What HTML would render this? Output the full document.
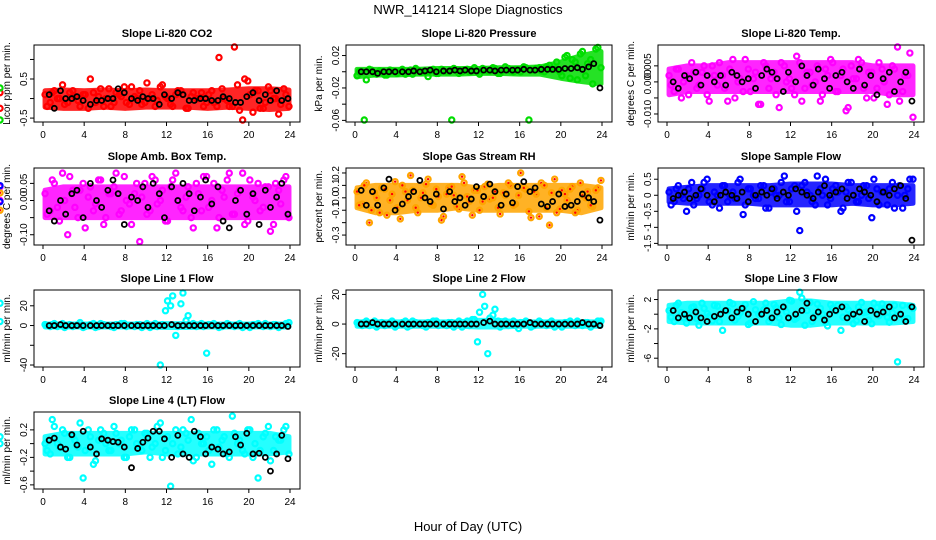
<!DOCTYPE html>
<html><head><meta charset="utf-8">
<style>
html,body{margin:0;padding:0;background:#fff;}
svg{display:block;font-family:"Liberation Sans",sans-serif;}
</style></head>
<body>
<svg id="chart" width="936" height="540" viewBox="0 0 936 540">
<text x="468" y="14" text-anchor="middle" font-size="13">NWR_141214  Slope Diagnostics</text>
<text x="468" y="531" text-anchor="middle" font-size="13">Hour of Day (UTC)</text>
</svg>
<script>
const hoursColor = [0.2,0.7,1.1,1.6,2.1,2.6,3.1,3.6,4.1,4.6,5.1,5.6,6.1,6.6,7.1,7.6,8.1,8.6,9.1,9.6,10.1,10.6,11.1,11.6,12.1,12.6,13.1,13.6,14.1,14.6,15.1,15.6,16.1,16.6,17.1,17.6,18.1,18.6,19.1,19.6,20.1,20.6,21.1,21.6,22.1,22.6,23.1,23.6,
  0.4,0.9,1.4,1.9,2.4,2.9,3.4,3.9,4.4,4.9,5.4,5.9,6.4,6.9,7.4,7.9,8.4,8.9,9.4,9.9,10.4,10.9,11.4,11.9,12.4,12.9,13.4,13.9,14.4,14.9,15.4,15.9,16.4,16.9,17.4,17.9,18.4,18.9,19.4,19.9,20.4,20.9,21.4,21.9,22.4,22.9,23.4,23.9];
const hoursBlack = [0.6,1.1,1.7,2.2,2.8,3.3,3.9,4.6,5.2,5.7,6.3,6.8,7.3,7.9,8.6,9.2,9.7,10.2,10.7,11.3,11.8,12.5,13.1,13.6,14.2,14.7,15.3,15.8,16.4,17.0,17.5,18.1,18.7,19.2,19.8,20.4,21.0,21.6,22.1,22.7,23.2,23.8];
const bandHours = [0.2,2,4,6,8,10,12,14,16,18,20,22,23.9];

const co2Color = [0.1,-0.1,0.2,0.0,-0.15,0.15,0.05,-0.2,0.1,0.5,-0.1,0.25,0.0,-0.2,0.15,0.05,-0.1,0.3,0.0,-0.15,0.4,0.1,-0.05,0.35,0.0,-0.2,0.2,0.1,-0.25,0.15,0.0,-0.2,0.1,-0.1,1.05,0.0,-0.2,1.4,-0.3,0.5,0.1,0.2,-0.25,-0.1,0.2,0.0,-0.15,0.1,
  -0.2,0.15,0.0,0.35,-0.1,0.2,-0.05,0.1,-0.25,0.15,0.05,-0.2,0.25,-0.1,0.1,0.3,-0.15,0.05,0.2,-0.1,0.0,-0.2,0.3,0.05,-0.15,0.1,0.2,-0.25,0.05,0.0,0.15,-0.1,0.2,-0.2,0.25,-0.05,-0.2,0.35,-0.55,0.45,-0.35,0.2,-0.25,0.3,0.0,-0.4,0.25,-0.2,0.15,-0.25];
const co2Black = [0.1,-0.25,0.2,0.0,0.0,0.05,-0.05,-0.15,-0.05,-0.05,0.0,0.0,0.25,0.15,0.0,-0.05,0.05,0.0,0.0,-0.15,0.1,0.0,0.15,0.1,-0.05,-0.05,0.0,0.0,-0.05,-0.05,0.05,0.0,-0.1,-0.1,0.05,0.15,-0.05,0.1,-0.05,0.2,-0.05,0.0];
const co2Low = [-0.22,-0.25,-0.25,-0.22,-0.25,-0.22,-0.22,-0.22,-0.25,-0.22,-0.25,-0.28,-0.25];
const co2High = [0.2,0.22,0.2,0.22,0.2,0.22,0.2,0.2,0.2,0.22,0.25,0.25,0.22];

const presColor = [-0.005,0.0,-0.01,0.002,-0.003,0.0,-0.004,0.001,-0.002,0.003,0.0,-0.003,0.002,0.0,-0.006,0.003,-0.002,0.001,0.0,0.004,-0.002,0.002,0.0,0.005,-0.003,0.003,0.001,0.004,-0.002,0.006,0.001,0.003,0.0,0.005,0.002,0.004,0.001,0.006,0.003,0.012,-0.005,0.02,0.015,-0.01,0.025,0.01,-0.015,0.03,
  0.0,-0.06,0.003,-0.002,0.001,-0.004,0.002,0.0,0.001,-0.003,0.002,0.004,-0.001,0.0,0.002,-0.002,0.003,0.0,-0.06,0.002,0.0,0.003,0.001,0.0,0.004,0.001,0.005,-0.002,0.002,0.004,0.0,0.003,0.006,-0.06,0.002,0.005,0.0,0.008,0.003,0.0,0.018,-0.008,0.012,0.022,-0.005,0.015,0.028,0.005,-0.02,-0.06];
const presBlack = [0.0,0.0,0.0,-0.002,0.0,0.0,0.0,0.0,0.0,0.001,0.0,0.001,0.002,0.0,0.001,0.001,0.002,0.001,0.002,0.001,0.001,0.002,0.002,0.001,0.002,0.002,0.002,0.002,0.003,0.002,0.002,0.003,0.003,0.003,0.003,0.004,0.004,0.005,0.003,0.006,0.01,-0.02];
const presLow = [-0.006,-0.004,-0.004,-0.003,-0.003,-0.003,-0.002,-0.002,-0.003,-0.003,-0.008,-0.012,-0.015];
const presHigh = [0.003,0.003,0.003,0.003,0.004,0.004,0.004,0.005,0.005,0.006,0.012,0.02,0.025];

const tempColor = [0.002,-0.003,0.004,0.0,-0.004,0.003,-0.001,0.005,-0.006,0.002,0.006,-0.002,0.004,-0.005,0.001,0.007,-0.003,0.003,-0.007,0.005,0.001,-0.004,0.006,0.0,-0.002,0.008,-0.006,0.003,-0.001,0.005,-0.004,0.002,0.006,-0.003,0.004,-0.008,0.001,0.007,-0.002,0.003,-0.005,0.006,0.0,-0.004,0.004,-0.006,0.002,0.009,
  -0.001,0.004,-0.005,0.002,0.006,-0.002,0.003,-0.004,0.005,-0.001,0.002,-0.006,0.007,0.0,-0.003,0.004,0.001,-0.007,0.006,-0.002,0.003,-0.008,0.005,0.001,-0.004,0.006,-0.002,0.003,0.0,-0.006,0.004,0.007,-0.003,0.002,-0.009,0.005,0.001,0.006,-0.005,0.003,-0.002,0.004,-0.007,0.005,0.011,-0.003,0.002,-0.011];
const tempBlack = [0.0,-0.002,0.002,0.001,0.003,-0.001,0.002,0.0,0.002,-0.001,0.003,0.002,0.0,0.001,-0.002,0.002,0.004,0.003,0.001,-0.003,0.003,0.0,0.005,0.002,-0.001,0.004,0.001,-0.002,0.002,0.003,0.0,-0.002,0.004,-0.001,0.002,-0.004,0.001,0.003,-0.003,0.0,0.003,-0.006];
const tempLow = [-0.004,-0.003,-0.003,-0.003,-0.003,-0.003,-0.003,-0.003,-0.003,-0.003,-0.003,-0.004,-0.004];
const tempHigh = [0.004,0.005,0.005,0.006,0.006,0.006,0.006,0.006,0.006,0.006,0.005,0.005,0.005];

const ambColor = [0.02,-0.03,0.05,-0.06,0.0,0.07,-0.02,0.03,-0.08,0.04,-0.01,0.06,-0.05,0.02,0.08,-0.03,0.0,-0.07,0.05,0.01,-0.04,0.07,-0.01,0.03,-0.06,0.06,0.0,-0.03,0.04,-0.08,0.02,0.07,-0.02,0.05,-0.05,0.01,0.08,-0.04,0.03,-0.07,0.06,0.0,-0.03,0.04,-0.09,0.05,-0.01,0.07,
  -0.04,0.06,-0.02,0.08,-0.1,0.03,-0.05,0.05,0.01,-0.03,0.06,-0.07,0.02,0.04,-0.04,0.07,-0.01,0.02,-0.12,0.05,-0.03,0.06,0.0,-0.06,0.04,0.08,-0.02,0.01,-0.05,0.05,-0.03,0.07,0.0,-0.08,0.03,0.06,-0.04,0.02,0.08,-0.06,0.01,0.05,-0.02,0.04,-0.07,0.03,0.06,-0.05,0.0,0.04];
const ambBlack = [-0.03,-0.06,0.0,-0.04,0.02,0.03,-0.05,0.05,0.0,-0.02,0.03,0.06,0.02,-0.07,0.01,0.0,0.04,-0.02,0.05,0.02,-0.05,0.04,0.0,0.05,0.02,-0.03,0.01,0.06,-0.01,0.04,-0.06,-0.08,0.0,0.03,-0.04,0.02,-0.07,0.03,-0.02,0.01,0.05,-0.04];
const ambLow = [-0.05,-0.05,-0.05,-0.05,-0.05,-0.05,-0.05,-0.05,-0.05,-0.05,-0.05,-0.05,-0.05];
const ambHigh = [0.03,0.04,0.04,0.04,0.04,0.04,0.04,0.04,0.04,0.04,0.04,0.04,0.04];

const rhColor = [0.05,-0.05,0.12,-0.1,0.0,0.08,-0.14,0.03,-0.08,0.1,-0.02,0.06,-0.12,0.04,0.15,-0.06,0.01,-0.15,0.08,0.02,-0.09,0.12,-0.03,0.06,-0.1,0.09,-0.01,0.05,-0.13,0.02,0.1,-0.05,0.2,0.07,-0.16,0.03,0.12,-0.08,0.04,-0.12,0.06,-0.02,0.09,-0.1,0.02,0.05,-0.07,0.08,
  -0.06,0.1,-0.2,0.04,-0.12,0.07,-0.02,0.13,-0.17,0.05,0.18,-0.08,0.0,0.11,-0.05,0.07,-0.18,0.03,0.09,-0.07,0.17,0.01,-0.14,0.06,-0.03,0.11,0.0,-0.08,0.04,0.12,-0.06,0.02,0.08,-0.11,0.05,-0.15,0.1,-0.22,0.15,-0.09,0.03,0.07,-0.12,0.12,0.0,-0.06,0.06,0.14,-0.1,0.04];
const rhBlack = [0.06,-0.06,0.05,-0.06,0.08,0.15,-0.1,-0.05,0.01,0.05,0.14,0.0,-0.03,0.03,-0.09,0.05,-0.03,0.0,-0.06,-0.01,0.09,0.01,0.11,0.05,-0.06,0.03,-0.04,0.09,0.13,0.05,0.08,-0.05,-0.07,-0.03,0.03,-0.07,-0.06,-0.03,0.03,0.0,-0.03,-0.18];
const rhLow = [-0.08,-0.12,-0.12,-0.1,-0.1,-0.08,-0.1,-0.1,-0.1,-0.1,-0.1,-0.12,-0.08];
const rhHigh = [0.08,0.1,0.1,0.1,0.1,0.1,0.08,0.1,0.1,0.1,0.1,0.1,0.08];

const flowColor = [0.1,-0.2,0.3,-0.1,0.2,-0.3,0.0,0.4,-0.2,0.1,-0.4,0.3,0.0,-0.1,0.5,-0.3,0.2,-0.1,0.3,-0.4,0.1,0.0,0.4,-0.2,0.2,-0.5,0.3,0.1,-0.2,0.6,0.0,-0.3,0.2,0.1,-0.4,0.4,0.0,-0.2,0.3,-0.1,0.5,-0.3,0.1,0.2,-0.4,0.3,0.0,0.5,
  -0.3,0.2,0.0,-0.5,0.4,-0.1,0.2,0.5,-0.3,0.0,0.3,-0.2,0.1,0.4,-0.6,0.2,0.0,-0.1,0.3,-0.4,0.2,0.0,0.6,-0.2,0.3,-1.1,0.4,0.0,-0.3,0.2,0.5,-0.1,0.3,-0.5,0.1,0.4,-0.2,0.0,0.3,-0.7,0.2,0.1,-0.3,0.4,0.0,-0.4,0.2,0.5,-0.2,0.3];
const flowBlack = [-0.1,0.0,0.1,-0.1,0.0,0.2,0.0,-0.2,0.0,0.1,0.0,-0.1,0.1,-0.2,0.0,0.1,0.0,0.2,-0.1,0.1,0.0,0.2,0.1,0.0,-0.1,0.1,0.3,0.0,0.1,0.2,-0.1,0.0,0.2,0.1,0.0,-0.2,0.1,0.0,0.2,0.3,-0.1,-1.4];
const flowLow = [-0.2,-0.25,-0.25,-0.25,-0.25,-0.3,-0.3,-0.3,-0.3,-0.25,-0.3,-0.3,-0.25];
const flowHigh = [0.2,0.25,0.3,0.3,0.3,0.3,0.35,0.35,0.35,0.3,0.3,0.3,0.3];

const line1Color = [1,-1,2,0,-2,1,0,3,-1,1,-2,2,0,-1,1,2,-1,0,1,-2,2,0,-1,1,25,30,-1,33,10,2,0,-1,1,2,-2,0,1,-1,2,0,-2,1,0,2,-1,1,0,2,
  0,1,-1,2,0,-1,1,-2,0,2,-1,1,0,-2,1,2,0,-1,1,0,-2,2,-40,15,20,-10,22,5,0,-1,2,-28,1,0,-1,2,0,1,-2,0,1,2,-1,0,1,-2,0,3];
const line1Black = [0,0,1,0,0,0,0,0,0,0,0,0,0,0,0,0,0,0,0,0,0,1,0,0,0,0,0,0,0,0,0,0,0,0,0,0,0,0,0,0,0,-1];
const line1Low = [-1.5,-1.5,-1.5,-1.5,-1.5,-1.5,-2,-2,-1.5,-1.5,-1.5,-1.5,-1.5];
const line1High = [1.5,1.5,1.5,1.5,1.5,1.5,2,2,1.5,1.5,1.5,1.5,1.5];

const line2Color = [1,-1,2,0,-2,1,0,2,-1,1,-2,2,0,-1,1,2,-1,0,1,-2,2,0,-1,3,8,12,4,10,-2,2,0,-1,1,2,-2,0,1,-1,2,0,-2,1,0,2,-1,1,0,2,
  0,1,-1,2,0,-1,1,-2,0,2,-1,1,0,-2,1,2,0,-1,1,0,-2,2,3,-12,20,-20,6,2,0,-1,2,-3,1,0,-1,2,0,1,-2,0,1,2,-1,0,1,-2,0,2];
const line2Black = [0,0,1,0,0,0,0,0,0,0,0,0,0,0,0,0,0,0,0,0,0,1,2,0,0,0,0,0,0,1,0,0,0,0,0,0,0,0,1,0,0,-1];
const line2Low = [-1.5,-1.5,-1.5,-1.5,-1.5,-1.5,-2,-2,-1.5,-1.5,-1.5,-1.5,-1.5];
const line2High = [1.5,1.5,1.5,1.5,1.5,1.5,2.5,2.5,1.5,1.5,1.5,1.5,1.5];

const line3Color = [0.5,-1,1.5,-0.5,0,1,-1.5,0.8,-0.3,1.2,-1,0.4,1.6,-0.8,0.2,1.3,-1.2,0.6,0,1.5,-0.6,0.9,-1.4,0.3,1.8,-0.5,2.2,0.5,-1,1.4,0,-1.6,0.8,1.2,-0.4,0.6,-1.3,1,0.2,-0.8,1.5,-0.2,0.7,-1.1,1.2,0,-0.7,1.1,
  -0.4,1.2,0.2,-1.2,0.9,-0.6,1.5,0.1,-0.9,1.1,-2.2,0.5,1.4,-0.3,0.8,-1.4,1.7,0,0.6,-1,1.3,-0.5,0.9,1.9,-0.7,3,-1.5,1.6,-0.2,0.8,-1.1,1.3,0.4,-2.2,1,0,-0.9,1.6,0.3,-1.3,0.9,1.4,-0.4,0.2,-6.5,1.2,-0.6,0.8,1.5,-1];
const line3Black = [0.5,-0.5,0,-0.5,0.3,-0.5,-1,-0.3,0,0.5,-0.5,0.3,0.8,0,-1,0,0.5,-0.5,0.3,1,-0.5,0,0.5,1.5,-0.5,0.3,-0.8,0,0.5,1,-0.5,0,0.3,-1,0.5,0,0.3,1,-0.5,0,-1,1];
const line3Low = [-1,-1.2,-1.2,-1.2,-1.2,-1.2,-1.5,-1.5,-1.2,-1.2,-1.2,-1.2,-1];
const line3High = [1.2,1.5,1.5,1.5,1.5,1.5,1.8,1.8,1.5,1.5,1.5,1.5,1.2];

const line4Color = [0.0,-0.15,0.25,-0.05,0.15,-0.2,0.05,0.3,-0.1,0.1,-0.25,0.2,0.0,-0.1,0.15,0.05,-0.2,0.2,0.0,-0.1,0.15,-0.05,0.25,-0.2,0.1,0.0,-0.15,0.2,0.05,-0.25,0.15,0.0,-0.1,0.2,-0.05,0.1,-0.2,0.15,0.05,-0.15,0.2,0.0,-0.1,0.15,-0.25,0.1,0.05,0.25,
  -0.1,0.35,0.0,0.2,-0.2,0.1,-0.05,-0.5,0.2,-0.3,0.05,0.15,-0.1,0.25,0.0,-0.2,0.1,0.2,-0.05,0.15,-0.2,0.0,0.3,-0.1,-0.62,0.2,-0.05,0.15,0.35,-0.2,0.0,0.1,-0.3,0.2,0.05,-0.15,0.4,0.0,-0.1,0.2,-0.2,-0.5,0.1,0.25,-0.1,0.05,0.2,-0.15,0.1,0.0];
const line4Black = [0.05,0.08,-0.05,-0.08,0.13,-0.02,0.18,-0.05,-0.15,0.07,0.05,0.03,0.02,-0.05,-0.35,-0.07,0.02,0.08,0.18,0.18,0.07,-0.2,0.12,-0.15,-0.2,0.18,0.1,-0.15,-0.05,-0.08,-0.15,-0.12,0.1,-0.02,0.15,-0.15,-0.14,-0.2,-0.4,-0.15,0.12,-0.22];
const line4Low = [-0.15,-0.15,-0.15,-0.15,-0.15,-0.12,-0.15,-0.15,-0.15,-0.15,-0.15,-0.15,-0.12];
const line4High = [0.1,0.15,0.15,0.15,0.15,0.15,0.15,0.15,0.15,0.15,0.15,0.15,0.1];

const yTicks1=[-0.5,0,0.5,1.0], yLab1=["-0.5","","0.5",""];
const yTicks2=[-0.06,-0.04,-0.02,0,0.02], yLab2=["-0.06","","-0.02","","0.02"];
const yTicks3=[-0.01,-0.005,0,0.005], yLab3=["-0.010","","0.000","0.005"];
const yTicks4=[-0.1,-0.05,0,0.05], yLab4=["-0.10","","0.00","0.05"];
const yTicks5=[-0.3,-0.2,-0.1,0,0.1,0.2], yLab5=["-0.3","","-0.1","0.0","0.1","0.2"];
const yTicks6=[-1.5,-1,-0.5,0,0.5], yLab6=["-1.5","-1","-0.5","0","0.5"];
const yTicks7=[-40,-20,0,20], yLab7=["-40","","0","20"];
const yTicks8=[-20,0,20], yLab8=["-20","0","20"];
const yTicks9=[-6,-4,-2,0,2], yLab9=["-6","","-2","","2"];
const yTicks10=[-0.6,-0.4,-0.2,0,0.2], yLab10=["-0.6","","-0.2","","0.2"];
const xTicks=[0,4,8,12,16,20,24];

const panels=[
 {name:"co2",title:"Slope Li-820 CO2",ylab:"Licor ppm per min.",col:0,row:0,ymin:-0.6,ymax:1.37,c:co2Color,b:co2Black,lo:co2Low,hi:co2High,t:yTicks1,l:yLab1,color:"#ff0000"},
 {name:"pressure",title:"Slope Li-820 Pressure",ylab:"kPa per min.",col:1,row:0,ymin:-0.062,ymax:0.033,c:presColor,b:presBlack,lo:presLow,hi:presHigh,t:yTicks2,l:yLab2,color:"#00dd00"},
 {name:"temp",title:"Slope Li-820 Temp.",ylab:"degrees C per min.",col:2,row:0,ymin:-0.0125,ymax:0.0115,c:tempColor,b:tempBlack,lo:tempLow,hi:tempHigh,t:yTicks3,l:yLab3,color:"#ff00ff"},
 {name:"amb-box-temp",title:"Slope Amb. Box Temp.",ylab:"degrees C per min.",col:0,row:1,ymin:-0.13,ymax:0.095,c:ambColor,b:ambBlack,lo:ambLow,hi:ambHigh,t:yTicks4,l:yLab4,color:"#ff00ff"},
 {name:"gas-stream-rh",title:"Slope Gas Stream RH",ylab:"percent per min.",col:1,row:1,ymin:-0.38,ymax:0.24,c:rhColor,b:rhBlack,lo:rhLow,hi:rhHigh,t:yTicks5,l:yLab5,color:"#ffa500"},
 {name:"sample-flow",title:"Slope Sample Flow",ylab:"ml/min per min.",col:2,row:1,ymin:-1.55,ymax:0.85,c:flowColor,b:flowBlack,lo:flowLow,hi:flowHigh,t:yTicks6,l:yLab6,color:"#0000ff"},
 {name:"line1-flow",title:"Slope Line 1 Flow",ylab:"ml/min per min.",col:0,row:2,ymin:-42,ymax:36,c:line1Color,b:line1Black,lo:line1Low,hi:line1High,t:yTicks7,l:yLab7,color:"#00ffff"},
 {name:"line2-flow",title:"Slope Line 2 Flow",ylab:"ml/min per min.",col:1,row:2,ymin:-29,ymax:23,c:line2Color,b:line2Black,lo:line2Low,hi:line2High,t:yTicks8,l:yLab8,color:"#00ffff"},
 {name:"line3-flow",title:"Slope Line 3 Flow",ylab:"ml/min per min.",col:2,row:2,ymin:-7.2,ymax:3.3,c:line3Color,b:line3Black,lo:line3Low,hi:line3High,t:yTicks9,l:yLab9,color:"#00ffff"},
 {name:"line4-flow",title:"Slope Line 4 (LT) Flow",ylab:"ml/min per min.",col:0,row:3,ymin:-0.66,ymax:0.46,c:line4Color,b:line4Black,lo:line4Low,hi:line4High,t:yTicks10,l:yLab10,color:"#00ffff"}
];

const NS="http://www.w3.org/2000/svg";
const svg=document.getElementById('chart');
function mk(tag,attrs,parent){const e=document.createElementNS(NS,tag);for(const k in attrs)e.setAttribute(k,attrs[k]);parent.appendChild(e);return e;}
const rowTops=[45,168,290,412], boxH=77, boxW=266;
panels.forEach(p=>{
  const g=mk('g',{},svg);
  
  
  const L=p.col*312+34, T=rowTops[p.row], R=L+boxW, B=T+boxH;
  const xs=h=>L+9+h*(247/24);
  const ys=v=>B-(v-p.ymin)/(p.ymax-p.ymin)*boxH;
  const tt=mk('text',{x:L+boxW/2,y:T-8,'text-anchor':'middle','font-size':'11','font-weight':'bold'},g);
  tt.textContent=p.title;
  
  
  const yl=mk('text',{x:0,y:0,'text-anchor':'middle','font-size':'10',transform:`translate(${L-24},${T+boxH/2}) rotate(-90)`},g);
  yl.textContent=p.ylab;
  
  
  // dense band of the bulk of the points
  let d='';
  p.hi.forEach((v,i)=>{d+=(i?'L':'M')+xs(bandHours[i])+','+ys(v);});
  for(let i=p.lo.length-1;i>=0;i--){d+='L'+xs(bandHours[i])+','+ys(p.lo[i]);}
  const band=mk('path',{d:d+'Z',fill:p.color,stroke:p.color,'stroke-width':5,'stroke-linejoin':'round',opacity:0.85},g);
  
  
  const pts=mk('g',{},g);
  
  
  p.c.forEach((v,i)=>{
    const h=hoursColor[i];
    const y=Math.max(T+2,Math.min(B-2,ys(v)));
    const c=mk('circle',{cx:xs(h),cy:y,r:2.6,fill:'none',stroke:p.color,'stroke-width':2.2},pts);
    
    
    if(p.name==='gas-stream-rh'){mk('circle',{cx:xs(h),cy:y,r:1.2,fill:'#ff0000'},pts);}
  });
  const bk=mk('g',{},g);
  
  
  p.b.forEach((v,i)=>{
    const y=Math.max(T+2,Math.min(B-2,ys(v)));
    const c=mk('circle',{cx:xs(hoursBlack[i]),cy:y,r:2.5,fill:'none',stroke:'#000','stroke-width':1.8},bk);
    
    
  });
  const box=mk('rect',{x:L,y:T,width:boxW,height:boxH,fill:'none',stroke:'#000','stroke-width':1},g);
  
  
  const xa=mk('g',{},g);
  
  
  xTicks.forEach(t=>{
    mk('line',{x1:xs(t),x2:xs(t),y1:B,y2:B+4,stroke:'#000'},xa);
    const tx=mk('text',{x:xs(t),y:B+16,'text-anchor':'middle','font-size':'10'},xa);
    tx.textContent=t;
    
    
  });
  const ya=mk('g',{},g);
  
  
  p.t.forEach((t,i)=>{
    const y=ys(t);
    mk('line',{x1:L-4,x2:L,y1:y,y2:y,stroke:'#000'},ya);
    if(p.l[i]){
      const tx=mk('text',{x:0,y:0,'text-anchor':'middle','font-size':'10',transform:`translate(${L-7},${y}) rotate(-90)`},ya);
      tx.textContent=p.l[i];
      
      
    }
  });
});
</script>
</body></html>
